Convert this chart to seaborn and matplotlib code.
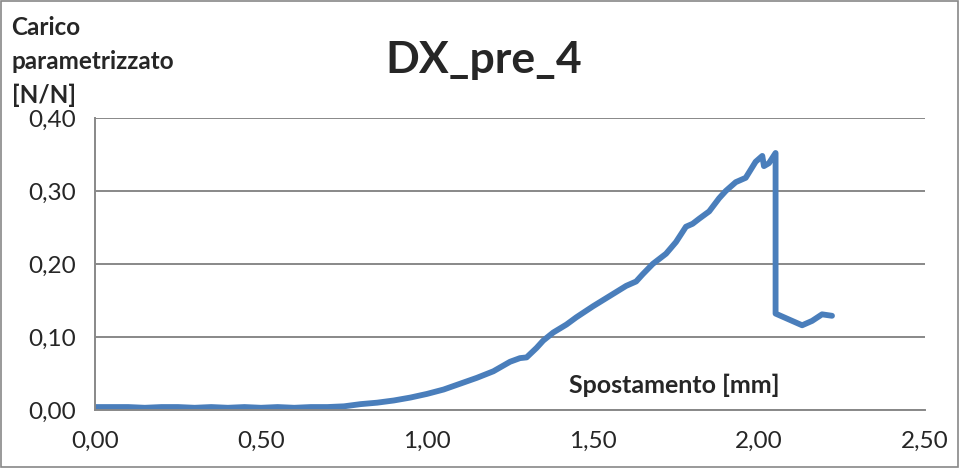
import matplotlib
matplotlib.use("Agg")
import matplotlib.pyplot as plt
import seaborn as sns
from matplotlib.patches import Rectangle
from matplotlib.ticker import FuncFormatter, MultipleLocator

# values
displacement = [0.00, 0.05, 0.10, 0.15, 0.20, 0.25, 0.30, 0.35, 0.40, 0.45, 0.50,
                0.55, 0.60, 0.65, 0.70, 0.75, 0.80, 0.85, 0.90, 0.95, 1.00, 1.05,
                1.10, 1.15, 1.20, 1.25, 1.28, 1.30, 1.33, 1.35, 1.38, 1.42, 1.45,
                1.48, 1.50, 1.55, 1.60, 1.63, 1.65, 1.68, 1.72, 1.75, 1.78, 1.80,
                1.82, 1.85, 1.88, 1.90, 1.93, 1.96, 1.99, 2.01, 2.015, 2.03, 2.05,
                2.05, 2.13, 2.16, 2.19, 2.22]
load = [0.004, 0.004, 0.004, 0.003, 0.004, 0.004, 0.003, 0.004, 0.003, 0.004, 0.003,
        0.004, 0.003, 0.004, 0.004, 0.005, 0.008, 0.010, 0.013, 0.017, 0.022, 0.028,
        0.036, 0.044, 0.053, 0.066, 0.071, 0.072, 0.085, 0.095, 0.106, 0.117, 0.127,
        0.136, 0.142, 0.156, 0.170, 0.176, 0.186, 0.200, 0.214, 0.230, 0.251, 0.255,
        0.262, 0.272, 0.290, 0.300, 0.312, 0.318, 0.340, 0.348, 0.334, 0.338, 0.352,
        0.132, 0.116, 0.122, 0.131, 0.129]

line_color = "#4A7EBB"
grid_color = "#888888"

sns.set_style("white")
plt.rcParams["font.family"] = ["Lato", "DejaVu Sans"]

fig = plt.figure(figsize=(9.6, 4.68), dpi=100)
ax = fig.add_axes([0.099, 0.124, 0.8645, 0.624])

sns.lineplot(x=displacement, y=load, ax=ax, sort=False, estimator=None,
             color=line_color, linewidth=4.2, solid_capstyle="round",
             solid_joinstyle="round")

ax.set_xlim(0, 2.5)
ax.set_ylim(0, 0.4)
ax.xaxis.set_major_locator(MultipleLocator(0.5))
ax.yaxis.set_major_locator(MultipleLocator(0.1))
comma = FuncFormatter(lambda v, p: f"{v:.2f}".replace(".", ","))
ax.xaxis.set_major_formatter(comma)
ax.yaxis.set_major_formatter(comma)

ax.grid(axis="y", color=grid_color, linewidth=1.4)
ax.grid(axis="x", visible=False)
ax.set_axisbelow(True)
for side in ["top", "right"]:
    ax.spines[side].set_visible(False)
for side in ["left", "bottom"]:
    ax.spines[side].set_color(grid_color)
    ax.spines[side].set_linewidth(1.4)
ax.tick_params(axis="both", which="major", direction="out", length=6,
               width=1.4, color=grid_color, labelsize=17.5)
ax.tick_params(axis="y", pad=8)
ax.tick_params(axis="x", pad=9)

ax.set_xlabel("")
ax.set_ylabel("")
fig.text(0.702, 0.177, "Spostamento [mm]", fontsize=18, fontweight="bold",
         ha="center", va="center")
fig.text(0.012, 0.965, "Carico\nparametrizzato\n[N/N]", fontsize=17.5,
         fontweight="bold", ha="left", va="top", linespacing=1.55)
fig.text(0.504, 0.872, "DX_pre_4", fontsize=32, fontweight="bold",
         ha="center", va="center")

fig.patches.append(Rectangle((0.001, 0.003), 0.997, 0.994, transform=fig.transFigure,
                             fill=False, edgecolor=grid_color, linewidth=1.2))

fig.savefig("out.png", dpi=100)
